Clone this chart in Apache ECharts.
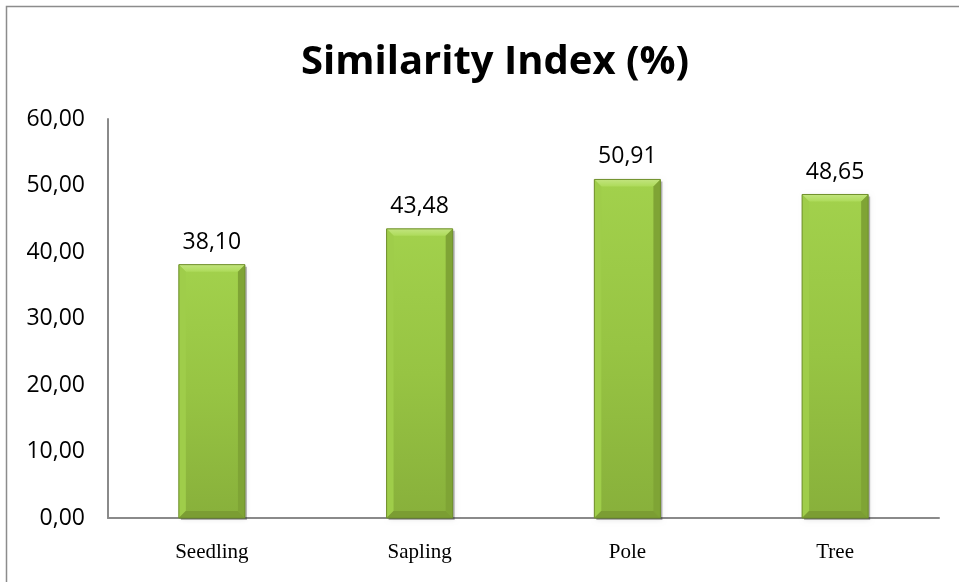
<!DOCTYPE html>
<html>
<head>
<meta charset="utf-8">
<script src="https://cdn.jsdelivr.net/npm/echarts@6/dist/echarts.min.js"></script>
<style>
  html, body { margin: 0; padding: 0; background: #fff; }
  #chart { width: 959px; height: 582px; }
</style>
</head>
<body>
<div id="chart"></div>
<script>
// Similarity index per growth stage
const categories = ['Seedling', 'Sapling', 'Pole', 'Tree'];
const similarity = [38.10, 43.48, 50.91, 48.65];
const yTicks = { min: 0, max: 60, interval: 10 };

const fmt = v => Number(v).toFixed(2).replace('.', ',');

// Beveled bar: body, four bevel facets, soft shadow and value label
function renderBevelBar(params, api) {
  const idx = api.value(0);
  const val = api.value(1);
  const top = api.coord([idx, val]);
  const base = api.coord([idx, 0]);
  const w = api.size([1, 0])[0] * 0.318;
  const x0 = top[0] - w / 2, x1 = top[0] + w / 2;
  const y0 = top[1], y1 = base[1];
  const b = 7;
  return {
    type: 'group',
    children: [
      {
        type: 'rect',
        shape: { x: x0 + 2, y: y0 + 2, width: w, height: y1 - y0 },
        style: { fill: 'rgba(0,0,0,0.28)', shadowBlur: 5, shadowColor: 'rgba(0,0,0,0.35)' }
      },
      {
        type: 'rect',
        shape: { x: x0, y: y0, width: w, height: y1 - y0 },
        style: {
          fill: {
            type: 'linear', x: 0, y: 0, x2: 0, y2: 1,
            colorStops: [
              { offset: 0, color: '#a2d14c' },
              { offset: 0.5, color: '#97c443' },
              { offset: 1, color: '#88b03b' }
            ]
          }
        }
      },
      {
        type: 'polygon',
        shape: { points: [[x0, y0], [x1, y0], [x1 - b, y0 + b], [x0 + b, y0 + b]] },
        style: {
          fill: {
            type: 'linear', x: 0, y: 0, x2: 0, y2: 1,
            colorStops: [{ offset: 0, color: '#c2e47e' }, { offset: 1, color: '#addb5a' }]
          }
        }
      },
      {
        type: 'polygon',
        shape: { points: [[x0, y0], [x0 + b, y0 + b], [x0 + b, y1 - b], [x0, y1]] },
        style: { fill: '#9fcd4a' }
      },
      {
        type: 'polygon',
        shape: { points: [[x1, y0], [x1 - b, y0 + b], [x1 - b, y1 - b], [x1, y1]] },
        style: { fill: '#7fa435' }
      },
      {
        type: 'polygon',
        shape: { points: [[x0, y1], [x0 + b, y1 - b], [x1 - b, y1 - b], [x1, y1]] },
        style: { fill: '#7b9d33' }
      },
      {
        type: 'rect',
        shape: { x: x0, y: y0, width: w, height: y1 - y0 },
        style: { fill: 'none', stroke: '#6f8f2c', lineWidth: 1 }
      },
      {
        type: 'text',
        x: top[0],
        y: y0 - 11,
        style: {
          text: fmt(val),
          align: 'center',
          verticalAlign: 'bottom',
          fontFamily: 'Open Sans',
          fontSize: 23,
          fill: '#000'
        }
      }
    ]
  };
}

const chart = echarts.init(document.getElementById('chart'));
chart.setOption({
  animation: false,
  backgroundColor: '#fff',
  title: {
    text: 'Similarity Index (%)',
    left: 490,
    top: 38,
    textAlign: 'center',
    textStyle: { fontFamily: 'Open Sans', fontWeight: 'bold', fontSize: 40, color: '#000' }
  },
  graphic: [{
    type: 'rect',
    shape: { x: 6.5, y: 6.5, width: 1000, height: 1000 },
    style: { fill: 'none', stroke: '#8c8c8c', lineWidth: 1.5 },
    silent: true
  }],
  grid: { left: 108, right: 20, top: 119, bottom: 64 },
  xAxis: {
    type: 'category',
    data: categories,
    axisLine: { lineStyle: { color: '#8a8a8a', width: 2 } },
    axisTick: { show: false },
    axisLabel: { margin: 24, fontFamily: 'Liberation Serif', fontSize: 21, color: '#000' }
  },
  yAxis: {
    type: 'value',
    min: yTicks.min,
    max: yTicks.max,
    interval: yTicks.interval,
    splitLine: { show: false },
    axisLine: { show: true, lineStyle: { color: '#8a8a8a', width: 2 } },
    axisTick: { show: false },
    axisLabel: { margin: 23, formatter: fmt, fontFamily: 'Open Sans', fontSize: 23, color: '#000' }
  },
  series: [{
    type: 'custom',
    renderItem: renderBevelBar,
    encode: { x: 0, y: 1 },
    data: similarity.map((v, i) => [i, v]),
    z: 3
  }]
});
</script>
</body>
</html>
